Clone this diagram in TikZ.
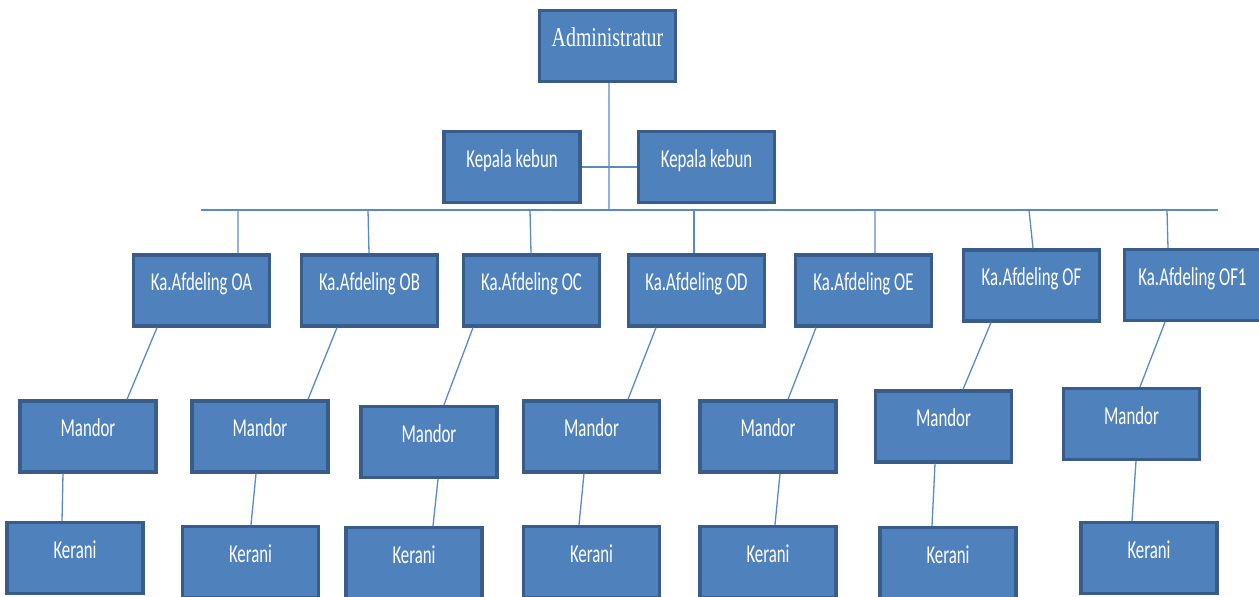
\documentclass[tikz,border=0pt]{standalone}
\usepackage{fontspec}
\setmainfont{Carlito}[FakeStretch=0.65]
\newfontfamily\adminfont{Liberation Serif}[FakeStretch=0.73]
\usetikzlibrary{calc}
\definecolor{boxfill}{HTML}{4F81BD}
\definecolor{boxedge}{HTML}{385D8A}
\definecolor{linkblue}{HTML}{5A8AC6}
\newcommand{\connectdrop}[3]{%
  \draw[link] (#1) -- ($(#2.north)+(#3,0)$)}
\newcommand{\connectslant}[4]{%
  \draw[link] ($(#1.south)+(#2,0)$) -- ($(#3.north)+(#4,0)$)}

\begin{document}
\begin{tikzpicture}[x=0.02cm, y=-0.02cm,
    post/.style={draw=boxedge, fill=boxfill, line width=0.066cm,
    text=white, inner sep=0pt, text width=2.72cm, align=center,
    text height=0.72cm, text depth=0.70cm,
    font=\fontsize{14.7}{16}\selectfont,
    execute at begin node={\spaceskip=0.15em\relax}},
    link/.style={draw=linkblue, line width=0.026cm}]
  \useasboundingbox (0,0) rectangle (1259,597);

  % top of the chart
  \node[post, font=\adminfont\fontsize{15.5}{17}\selectfont] (admin) at (607.5,46) {Administratur};
  \node[post] (kebunL) at (512,167) {Kepala kebun};
  \node[post] (kebunR) at (706.5,167) {Kepala kebun};
  \coordinate (busL) at (201,210);
  \coordinate (busR) at (1218,210);
  \coordinate (busA) at (609,210);

  \draw[link] (busL) -- (busR);
  \draw[link] ($(admin.south)+(1.5,0)$) -- (busA);
  \draw[link] (kebunL.east) -- (kebunR.west);

  % afdeling heads
  \node[post] (afdA) at (201.5,290.5) {Ka.Afdeling OA};
  \node[post] (afdB) at (369.5,290.5) {Ka.Afdeling OB};
  \node[post] (afdC) at (531.5,290.5) {Ka.Afdeling OC};
  \node[post] (afdD) at (696.5,290.5) {Ka.Afdeling OD};
  \node[post] (afdE) at (863.5,290.5) {Ka.Afdeling OE};
  \node[post] (afdF) at (1031.5,285.5) {Ka.Afdeling OF};
  \node[post] (afdG) at (1192.5,285) {Ka.Afdeling OF1};

  \coordinate (tA) at (238,210);
  \coordinate (tB) at (368,210);
  \coordinate (tC) at (530,210);
  \coordinate (tD) at (694,210);
  \coordinate (tE) at (875,210);
  \coordinate (tF) at (1029,210);
  \coordinate (tG) at (1167,210);

  \connectdrop{tA}{afdA}{36.5};
  \connectdrop{tB}{afdB}{-0.5};
  \connectdrop{tC}{afdC}{-0.5};
  \connectdrop{tD}{afdD}{-2.5};
  \connectdrop{tE}{afdE}{11.5};
  \connectdrop{tF}{afdF}{1.5};
  \connectdrop{tG}{afdG}{-24.5};

  % mandor
  \node[post] (manA) at (88,436.5) {Mandor};
  \node[post] (manB) at (260,436.5) {Mandor};
  \node[post] (manC) at (429,442) {Mandor};
  \node[post] (manD) at (591.5,436.5) {Mandor};
  \node[post] (manE) at (768,436.5) {Mandor};
  \node[post] (manF) at (943.5,426.5) {Mandor};
  \node[post] (manG) at (1131.5,424) {Mandor};

  \connectslant{afdA}{-44.5}{manA}{39};
  \connectslant{afdB}{-32.5}{manB}{48};
  \connectslant{afdC}{-58.5}{manC}{15};
  \connectslant{afdD}{-40.5}{manD}{36.5};
  \connectslant{afdE}{-47.5}{manE}{20};
  \connectslant{afdF}{-40.5}{manF}{19.5};
  \connectslant{afdG}{-27.5}{manG}{8.5};

  % kerani
  \node[post] (kerA) at (75,558) {Kerani};
  \node[post] (kerB) at (250.5,562) {Kerani};
  \node[post] (kerC) at (414,563) {Kerani};
  \node[post] (kerD) at (591.5,562) {Kerani};
  \node[post] (kerE) at (768,562) {Kerani};
  \node[post] (kerF) at (948,563) {Kerani};
  \node[post] (kerG) at (1149,558) {Kerani};

  \connectslant{manA}{-25}{kerA}{-13};
  \connectslant{manB}{-4}{kerB}{0.5};
  \connectslant{manC}{9}{kerC}{19};
  \connectslant{manD}{-7.5}{kerD}{-12.5};
  \connectslant{manE}{12}{kerE}{7};
  \connectslant{manF}{-8.5}{kerF}{-16};
  \connectslant{manG}{4.5}{kerG}{-17};
\end{tikzpicture}
\end{document}
